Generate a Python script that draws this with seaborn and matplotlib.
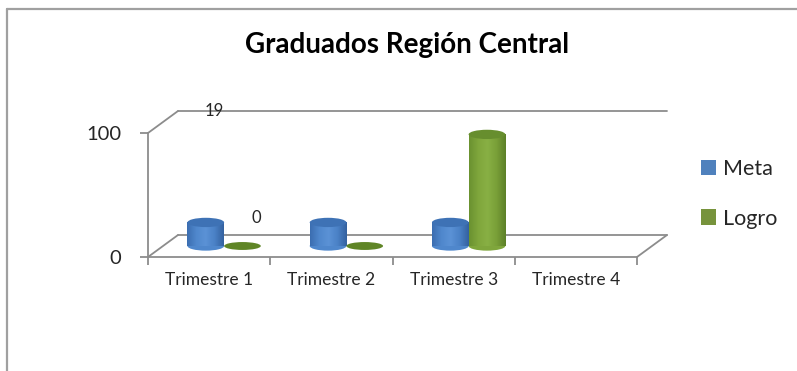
import numpy as np
import pandas as pd
import matplotlib
matplotlib.use("Agg")
import matplotlib.pyplot as plt
import seaborn as sns
from matplotlib.patches import Ellipse, Patch
from matplotlib.lines import Line2D
from matplotlib.transforms import IdentityTransform
from matplotlib.colors import LinearSegmentedColormap

# ---- data -------------------------------------------------------------
trimestres = ["Trimestre 1", "Trimestre 2", "Trimestre 3", "Trimestre 4"]
series = ["Meta", "Logro"]
meta = [19, 19, 19, np.nan]
logro = [0, 0, 90, np.nan]
y_ticks = [0, 100]
titulo = "Graduados Región Central"

# ---- style ------------------------------------------------------------
legend_colors = {"Meta": "#4F81BD", "Logro": "#77933C"}
body_shades = {
    "Meta": ["#3b6db0", "#4f87cc", "#5b92d6", "#4a81c6", "#33619f"],
    "Logro": ["#6a9130", "#7fa63c", "#88b044", "#799f38", "#5c8028"],
}
top_colors = {"Meta": "#3e72b5", "Logro": "#678e2e"}
flat_colors = {"Meta": "#3e72b5", "Logro": "#5f8526"}
axis_gray = "#8c8c8c"

sns.set_theme(style="white")
plt.rcParams["font.family"] = ["Lato", "DejaVu Sans"]

W, H = 797, 371
fig = plt.figure(figsize=(W / 100, H / 100), dpi=100)
fig.patch.set_facecolor("white")

# front plane of the 3-D box, plus the depth offset (pixels) of the
# plane the cylinders stand on and of the back wall
X0, X1, Y100, Y0 = 148, 637, 133, 257
DEPTH = (30, -22)


def plane_axes(dx, dy, z):
    ax = fig.add_axes([(X0 + dx) / W, 1 - (Y0 + dy) / H,
                       (X1 - X0) / W, (Y0 - Y100) / H], zorder=z)
    ax.set_facecolor("none")
    ax.set_xlim(-0.5, len(trimestres) - 0.5)
    ax.set_ylim(y_ticks[0], y_ticks[-1])
    return ax


back_ax = plane_axes(DEPTH[0], DEPTH[1], 0)
front_ax = plane_axes(0, 0, 1)
mid_ax = plane_axes(DEPTH[0] / 2, DEPTH[1] / 2, 2)

# ---- back wall and floor ---------------------------------------------
xlo, xhi = -0.5, len(trimestres) - 0.5
for ax in (back_ax, mid_ax):
    ax.set_axis_off()
back_ax.plot([xlo, xhi], [y_ticks[-1]] * 2, color=axis_gray, lw=1.3, clip_on=False)
back_ax.plot([xlo, xhi], [y_ticks[0]] * 2, color=axis_gray, lw=1.3, clip_on=False)
for pt in [(xlo, y_ticks[-1]), (xlo, y_ticks[0]), (xhi, y_ticks[0])]:
    p0 = front_ax.transData.transform(pt)
    p1 = back_ax.transData.transform(pt)
    fig.add_artist(Line2D([p0[0], p1[0]], [p0[1], p1[1]], transform=IdentityTransform(),
                          color=axis_gray, lw=1.3))

# ---- front axes -------------------------------------------------------
for side in ("top", "right"):
    front_ax.spines[side].set_visible(False)
for side in ("left", "bottom"):
    front_ax.spines[side].set_color(axis_gray)
    front_ax.spines[side].set_linewidth(1.3)
front_ax.set_yticks(y_ticks)
front_ax.set_yticklabels([str(v) for v in y_ticks], fontsize=14.5)
front_ax.set_xticks(range(len(trimestres)))
front_ax.set_xticklabels(trimestres, fontsize=12.5)
front_ax.set_xticks(np.arange(len(trimestres) + 1) - 0.5, minor=True)
front_ax.tick_params(axis="y", left=True, length=6, width=1.3, color=axis_gray, pad=13)
front_ax.tick_params(axis="x", which="major", bottom=True, length=0, pad=11)
front_ax.tick_params(axis="x", which="minor", bottom=True, length=6, width=1.3, color=axis_gray)

# ---- cylinders --------------------------------------------------------
df = pd.DataFrame({
    "Trimestre": trimestres * 2,
    "Serie": [s for s in series for _ in trimestres],
    "Valor": meta + logro,
})
sns.barplot(data=df, x="Trimestre", y="Valor", hue="Serie", order=trimestres,
            hue_order=series, palette=legend_colors, width=0.6, gap=0,
            dodge=True, errorbar=None, saturation=1, legend=False, ax=mid_ax)

ell_h = 7.5  # ellipse height in data units
grad = np.linspace(0, 1, 256).reshape(1, -1)
bar_centers = {}
for serie, cont in zip(series, mid_ax.containers):
    cmap = LinearSegmentedColormap.from_list(serie, body_shades[serie])
    for i, bar in enumerate(cont):
        h = bar.get_height()
        if not np.isfinite(h):
            bar.set_visible(False)
            continue
        x0, w = bar.get_x(), bar.get_width()
        xc = x0 + w / 2
        bar_centers[(serie, i)] = xc
        bar.set_edgecolor("none")
        if h > 0:
            base = Ellipse((xc, 0), w, ell_h, facecolor=body_shades[serie][1],
                           edgecolor="none", zorder=2, clip_on=False)
            mid_ax.add_patch(base)
            bar.set_facecolor(body_shades[serie][1])
            for clip in (base, bar):
                im = mid_ax.imshow(grad, cmap=cmap, aspect="auto", zorder=3,
                                   extent=(x0, x0 + w, -ell_h, h))
                im.set_clip_box(None)
                im.set_clip_path(clip)
            mid_ax.add_patch(Ellipse((xc, h), w, ell_h, facecolor=top_colors[serie],
                                     edgecolor="none", zorder=4, clip_on=False))
        else:
            bar.set_visible(False)
            mid_ax.add_patch(Ellipse((xc, 0), w, ell_h * 0.85, facecolor=flat_colors[serie],
                                     edgecolor="none", zorder=4, clip_on=False))

mid_ax.set_xlim(xlo, xhi)
mid_ax.set_ylim(y_ticks[0], y_ticks[-1])

# data labels
mid_ax.annotate(f"{meta[0]:g}", xy=(bar_centers[("Meta", 0)], meta[0]), xytext=(8, 111),
                textcoords="offset pixels", ha="center", va="center", fontsize=12,
                annotation_clip=False)
mid_ax.annotate(f"{logro[0]:g}", xy=(bar_centers[("Logro", 0)], logro[0]), xytext=(14, 28),
                textcoords="offset pixels", ha="center", va="center", fontsize=12,
                annotation_clip=False)

# ---- title, legend, chart frame --------------------------------------
fig.text(407 / W, 1 - 45 / H, titulo, ha="center", va="center",
         fontsize=20, fontweight="bold", color="black")

handles = [Patch(facecolor=legend_colors[s], edgecolor="none") for s in series]
fig.legend(handles, series, loc="center left", bbox_to_anchor=(701 / W, 1 - 194 / H),
           frameon=False, fontsize=15.5, handlelength=0.7, handleheight=0.7,
           handletextpad=0.3, labelspacing=1.35, borderpad=0, borderaxespad=0)

frame_kw = dict(transform=fig.transFigure, color="#a0a0a0", lw=1.6)
fig.add_artist(Line2D([7 / W, 7 / W], [0, 1 - 9 / H], **frame_kw))
fig.add_artist(Line2D([7 / W, 1], [1 - 9 / H, 1 - 9 / H], **frame_kw))

fig.savefig("out.png", dpi=100)
